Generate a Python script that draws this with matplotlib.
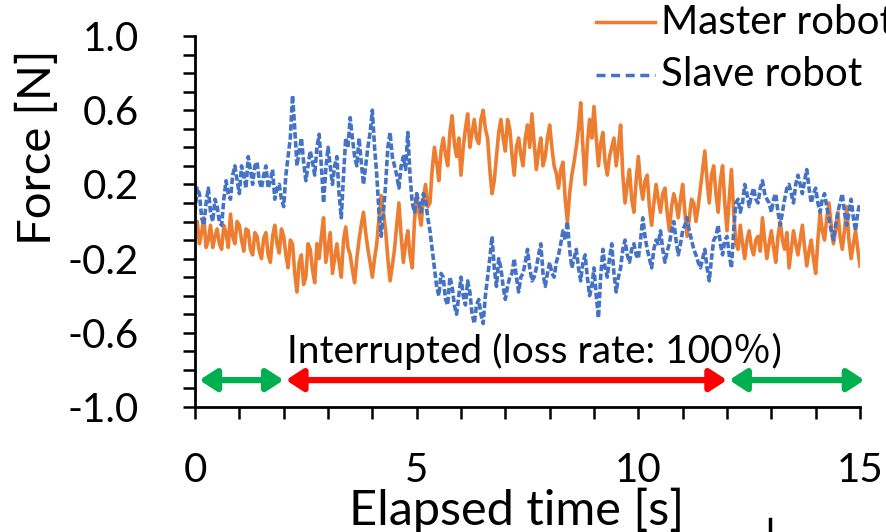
import numpy as np
import matplotlib
matplotlib.use("Agg")
import matplotlib.pyplot as plt
from matplotlib.lines import Line2D
from matplotlib.ticker import FixedLocator, MultipleLocator

plt.rcParams['font.family'] = ['Lato', 'Noto Sans CJK JP', 'DejaVu Sans']
plt.rcParams['axes.unicode_minus'] = False

# ---- data: readings at 0.0, 0.1, ... 15.0 s and at the half steps 0.05, 0.15, ... 14.95 s ----
master_force_tenths = [
    -0.05, -0.12, 0.02, -0.10, -0.14, -0.04, -0.15, -0.06, 0.04, -0.12,
    -0.02, -0.16, -0.05, -0.18, -0.08, -0.20, -0.06, -0.22, -0.02, -0.17,
    -0.08, -0.25, -0.12, -0.38, -0.18, -0.30, -0.15, -0.33, -0.20, 0.02,
    -0.14, -0.28, -0.12, -0.30, -0.03, -0.18, -0.33, -0.10, 0.05, -0.15,
    -0.30, -0.12, 0.14, -0.05, -0.32, -0.15, 0.10, -0.22, -0.05, -0.25,
    0.15, -0.02, 0.20, 0.10, 0.40, 0.22, 0.45, 0.30, 0.57, 0.35,
    0.25, 0.50, 0.40, 0.55, 0.42, 0.60, 0.45, 0.15, 0.35, 0.55,
    0.38, 0.50, 0.25, 0.45, 0.30, 0.52, 0.58, 0.28, 0.45, 0.35,
    0.52, 0.30, 0.18, 0.32, 0.00, 0.25, 0.40, 0.64, 0.20, 0.55,
    0.62, 0.30, 0.48, 0.25, 0.40, 0.30, 0.52, 0.10, 0.28, 0.05,
    0.35, 0.12, 0.25, -0.02, 0.20, 0.05, 0.18, -0.05, 0.15, 0.02,
    0.20, -0.08, 0.12, 0.00, 0.18, 0.38, 0.10, 0.30, 0.05, 0.30,
    -0.05, 0.28, -0.12, -0.02, -0.20, -0.05, -0.18, -0.08, 0.02, -0.20,
    -0.05, -0.22, 0.00, -0.15, -0.25, -0.05, -0.18, -0.02, -0.24, -0.10,
    -0.28, 0.05, -0.10, 0.10, -0.12, 0.05, -0.15, 0.08, -0.20, -0.05,
    -0.24,
]
master_force_half = [
    0.00, -0.06, -0.14, -0.02, -0.08, -0.12, -0.02, -0.14, -0.08, 0.00,
    -0.10, -0.04, -0.15, -0.06, -0.16, -0.09, -0.18, -0.08, -0.12, -0.04,
    -0.18, -0.10, -0.28, -0.22, -0.34, -0.12, -0.26, -0.12, -0.08, -0.22,
    -0.06, -0.20, -0.22, -0.10, -0.14, -0.26, -0.20, -0.02, -0.06, -0.22,
    -0.20, 0.02, 0.05, -0.20, -0.24, -0.02, -0.08, -0.12, -0.18, 0.00,
    0.05, 0.12, 0.08, 0.28, 0.32, 0.38, 0.36, 0.48, 0.42, 0.45,
    0.40, 0.58, 0.48, 0.45, 0.55, 0.50, 0.28, 0.22, 0.48, 0.45,
    0.55, 0.36, 0.40, 0.36, 0.45, 0.40, 0.42, 0.38, 0.30, 0.45,
    0.40, 0.26, 0.28, 0.12, 0.15, 0.32, 0.50, 0.40, 0.42, 0.45,
    0.45, 0.42, 0.32, 0.35, 0.45, 0.40, 0.25, 0.20, 0.12, 0.22,
    0.20, 0.22, 0.08, 0.10, 0.12, 0.15, 0.05, 0.08, 0.10, 0.12,
    0.05, 0.02, 0.10, 0.08, 0.28, 0.22, 0.25, 0.15, 0.22, 0.10,
    0.12, 0.05, -0.15, -0.12, -0.10, -0.14, -0.10, -0.16, -0.10, -0.12,
    -0.14, -0.08, -0.10, -0.06, -0.15, -0.12, -0.10, -0.14, -0.16, -0.20,
    -0.10, -0.05, 0.02, -0.02, -0.05, -0.08, -0.05, -0.10, -0.12, -0.15,
]

slave_force_tenths = [
    0.05, 0.15, -0.02, 0.18, 0.00, 0.08, -0.02, 0.22, 0.12, 0.30,
    0.15, 0.25, 0.35, 0.20, 0.32, 0.18, 0.30, 0.22, 0.12, 0.20,
    0.08, 0.35, 0.68, 0.30, 0.45, 0.22, 0.38, 0.25, 0.47, 0.10,
    0.40, 0.20, 0.35, 0.02, 0.45, 0.56, 0.35, 0.45, 0.20, 0.40,
    0.60, 0.25, -0.08, 0.20, 0.48, 0.30, 0.18, 0.35, 0.48, 0.10,
    0.15, 0.05, 0.12, -0.05, -0.25, -0.40, -0.30, -0.45, -0.35, -0.50,
    -0.30, -0.45, -0.38, -0.55, -0.42, -0.55, -0.30, -0.08, -0.35, -0.25,
    -0.42, -0.30, -0.20, -0.38, -0.28, -0.15, -0.32, -0.25, -0.12, -0.35,
    -0.22, -0.30, -0.18, -0.05, 0.00, -0.25, -0.15, -0.32, -0.18, -0.40,
    -0.25, -0.52, -0.15, -0.30, -0.12, -0.38, -0.25, -0.10, -0.22, -0.12,
    -0.20, 0.02, -0.15, -0.25, -0.10, -0.05, -0.22, -0.12, 0.00, -0.18,
    -0.05, 0.02, -0.10, -0.18, -0.25, -0.15, -0.32, -0.10, -0.02, -0.18,
    -0.08, -0.25, 0.10, 0.05, 0.20, 0.08, 0.18, 0.10, 0.22, 0.12,
    0.05, 0.15, -0.02, 0.12, 0.20, 0.10, 0.25, 0.15, 0.28, 0.10,
    0.18, 0.05, 0.15, 0.02, -0.10, 0.05, 0.15, -0.02, 0.12, -0.05,
    0.10,
]
slave_force_half = [
    0.18, 0.02, 0.10, 0.05, 0.12, 0.00, 0.12, 0.15, 0.25, 0.22,
    0.30, 0.18, 0.28, 0.30, 0.22, 0.25, 0.18, 0.28, 0.18, 0.12,
    0.25, 0.45, 0.50, 0.38, 0.32, 0.30, 0.32, 0.40, 0.30, 0.28,
    0.30, 0.30, 0.15, 0.25, 0.40, 0.45, 0.30, 0.32, 0.30, 0.48,
    0.40, 0.05, 0.05, 0.40, 0.35, 0.25, 0.30, 0.28, 0.25, 0.05,
    0.10, 0.15, 0.02, -0.15, -0.35, -0.28, -0.42, -0.30, -0.45, -0.40,
    -0.40, -0.32, -0.50, -0.45, -0.50, -0.40, -0.20, -0.25, -0.20, -0.35,
    -0.35, -0.28, -0.30, -0.30, -0.22, -0.25, -0.30, -0.18, -0.28, -0.28,
    -0.28, -0.22, -0.12, -0.10, -0.15, -0.20, -0.25, -0.22, -0.30, -0.35,
    -0.40, -0.30, -0.25, -0.20, -0.28, -0.30, -0.15, -0.18, -0.15, -0.18,
    -0.10, -0.08, -0.20, -0.15, -0.12, -0.15, -0.16, -0.05, -0.10, -0.12,
    -0.02, -0.05, -0.15, -0.22, -0.20, -0.25, -0.20, -0.08, -0.12, -0.10,
    -0.18, -0.05, 0.12, 0.10, 0.15, 0.14, 0.12, 0.18, 0.15, 0.10,
    0.12, 0.05, 0.05, 0.18, 0.15, 0.20, 0.20, 0.22, 0.18, 0.15,
    0.10, 0.12, 0.08, -0.05, -0.02, 0.10, 0.05, 0.05, 0.02, 0.05,
]

series_labels = ["Master robot", "Slave robot"]
y_tick_values = [-1.0, -0.6, -0.2, 0.2, 0.6, 1.0]
x_tick_values = [0, 5, 10, 15]

# phases: start / end (s)
phase_start = [0.1, 2.05, 12.05]
phase_end = [2.0, 12.0, 15.1]
annotation_text = "Interrupted (loss rate: 100％)"

ORANGE = "#ED7D31"
BLUE = "#4472C4"
GREEN = "#00B050"
RED = "#FF0000"
phase_colors = [GREEN, RED, GREEN]


def merge(tenths, half):
    t_a = np.arange(len(tenths)) * 0.1
    t_b = np.arange(len(half)) * 0.1 + 0.05
    t = np.concatenate([t_a, t_b])
    v = np.concatenate([tenths, half])
    order = np.argsort(t)
    return t[order], v[order]


t_master, v_master = merge(master_force_tenths, master_force_half)
t_slave, v_slave = merge(slave_force_tenths, slave_force_half)

W, H = 886, 532
fig = plt.figure(figsize=(W / 100, H / 100), dpi=100)
ax = fig.add_axes([195 / W, (H - 407) / H, (860 - 195) / W, (407 - 36) / H])

ax.plot(t_master, v_master, color=ORANGE, lw=2.6, solid_joinstyle='round')
ax.plot(t_slave, v_slave, color=BLUE, lw=2.6, ls=(0, (1.8, 0.7)))

ax.set_xlim(0, 15)
ax.set_ylim(-1.0, 1.0)

for s in ["top", "right"]:
    ax.spines[s].set_visible(False)
for s in ["left", "bottom"]:
    ax.spines[s].set_linewidth(2.0)
    ax.spines[s].set_color("black")

ax.xaxis.set_major_locator(FixedLocator(x_tick_values))
ax.xaxis.set_minor_locator(MultipleLocator(1))
ax.yaxis.set_major_locator(FixedLocator(y_tick_values))
ax.yaxis.set_minor_locator(MultipleLocator(0.1))
ax.set_yticklabels([f"{v:.1f}" for v in y_tick_values])
ax.set_xticklabels([str(v) for v in x_tick_values])

ax.tick_params(axis="both", which="both", direction="out", length=8.5, width=1.8, color="black")
ax.tick_params(axis="y", which="major", labelsize=29, pad=32)
ax.tick_params(axis="x", which="major", labelsize=29, pad=24)

ax.set_ylabel("Force [N]", fontsize=34)
ax.yaxis.set_label_coords(-0.205, 0.70)
ax.set_xlabel("Elapsed time [s]", fontsize=35)
ax.xaxis.set_label_coords(0.483, -0.218)

# phase arrows
arrow_y = -0.855
for x0, x1, c in zip(phase_start, phase_end, phase_colors):
    ax.annotate("", xy=(x1, arrow_y), xytext=(x0, arrow_y),
                arrowprops=dict(arrowstyle="<|-|>,head_length=1.0,head_width=0.65",
                                color=c, lw=4.5, shrinkA=0, shrinkB=0),
                annotation_clip=False)

ax.text(7.65, -0.70, annotation_text, fontsize=28, ha="center", va="center")

# legend (drawn in figure pixels)
def fx(px):
    return px / W

def fy(py):
    return 1 - py / H

fig.add_artist(Line2D([fx(596), fx(655)], [fy(22), fy(22)], color=ORANGE, lw=2.5,
                      transform=fig.transFigure))
fig.add_artist(Line2D([fx(596), fx(655)], [fy(75), fy(75)], color=BLUE, lw=2.5,
                      ls=(0, (2.6, 1.6)), transform=fig.transFigure))
fig.text(fx(661), fy(22), series_labels[0], fontsize=29, va="center", ha="left")
fig.text(fx(661), fy(75), series_labels[1], fontsize=29, va="center", ha="left")

# small stray mark at the bottom of the reference
fig.add_artist(Line2D([fx(770), fx(770)], [fy(519), fy(532)], color="black", lw=2.5,
                      transform=fig.transFigure))

fig.savefig("out.png", dpi=100)
